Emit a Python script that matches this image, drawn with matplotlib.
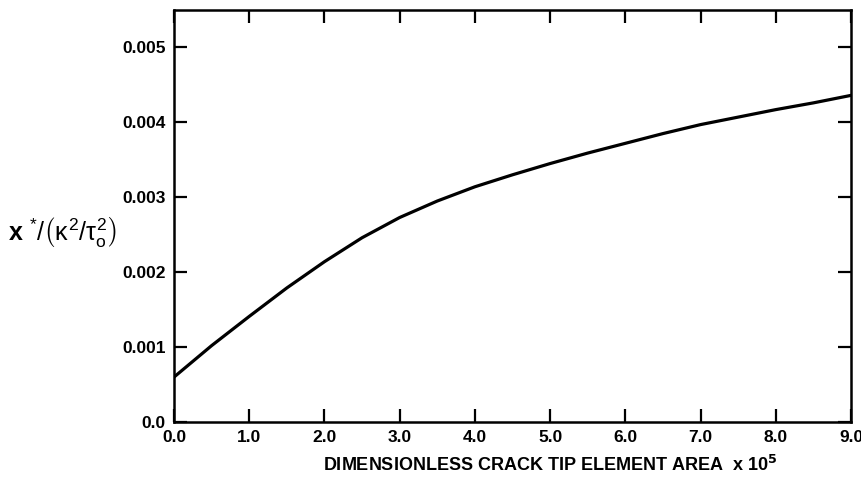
import matplotlib
matplotlib.use("Agg")
import matplotlib.pyplot as plt

# curve
area = [0.0, 0.5, 1.0, 1.5, 2.0, 2.5, 3.0, 3.5, 4.0, 4.5,
        5.0, 5.5, 6.0, 6.5, 7.0, 7.5, 8.0, 8.5, 9.0]
xstar = [0.00060, 0.00102, 0.00141, 0.00179, 0.00214, 0.00246, 0.00273,
         0.00295, 0.00314, 0.00330, 0.00345, 0.00359, 0.00372, 0.00385,
         0.00397, 0.00407, 0.00417, 0.00426, 0.00436]

xticks = [0, 1, 2, 3, 4, 5, 6, 7, 8, 9]
xticklabels = ["0.0", "1.0", "2.0", "3.0", "4.0", "5.0", "6.0", "7.0", "8.0", "9.0"]
yticks = [0, 0.001, 0.002, 0.003, 0.004, 0.005]
yticklabels = ["0.0", "0.001", "0.002", "0.003", "0.004", "0.005"]

plt.rcParams['font.family'] = ['Liberation Sans', 'DejaVu Sans']
plt.rcParams['mathtext.fontset'] = 'custom'
plt.rcParams['mathtext.rm'] = 'Liberation Sans'
plt.rcParams['mathtext.it'] = 'Liberation Sans'

fig = plt.figure(figsize=(8.62, 4.8), dpi=100)
ax = fig.add_axes([0.2019, 0.1208, 0.7853, 0.8584])

ax.plot(area, xstar, color='black', lw=2.3)

ax.set_xlim(0, 9)
ax.set_ylim(0, 0.0055)
ax.set_xticks(xticks)
ax.set_xticklabels(xticklabels, fontsize=12.5, fontweight='bold')
ax.set_yticks(yticks)
ax.set_yticklabels(yticklabels, fontsize=12.5, fontweight='bold')
ax.tick_params(direction='in', length=9.5, width=1.6, top=True, right=True,
               color='black', pad=6)

for s in ax.spines.values():
    s.set_linewidth(1.8)

fig.text(550 / 862, 1 - 471 / 480,
         r'DIMENSIONLESS CRACK TIP ELEMENT AREA  x 10$^{\mathbf{5}}$',
         ha='center', va='baseline', fontsize=13, fontweight='bold')
fig.text(8 / 862, 1 - 232 / 480,
         r'x $^{*}/\left(\kappa^{2}/\tau_{o}^{2}\right)$',
         ha='left', va='center', fontsize=18, fontweight='bold')

fig.savefig('out.png', dpi=100)
